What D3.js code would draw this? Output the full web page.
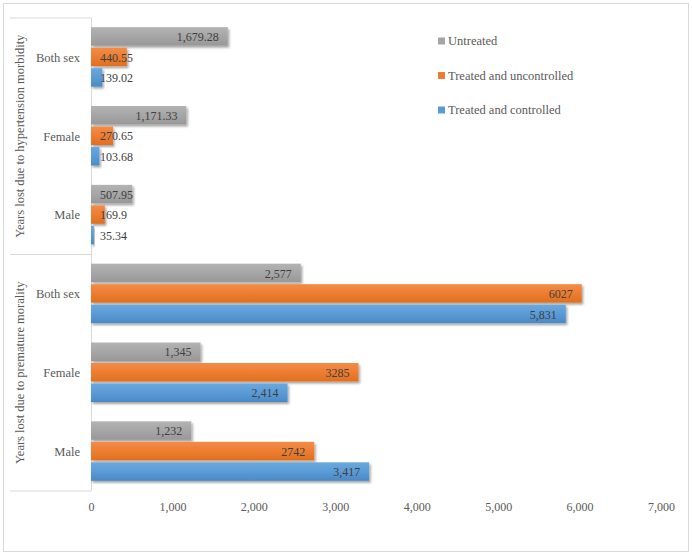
<!DOCTYPE html>
<html><head><meta charset="utf-8">
<script src="https://cdn.jsdelivr.net/npm/d3@7"></script>
<style>body{margin:0;background:#fff}svg{display:block}</style>
</head><body>
<script>
const groups = ["Years lost due to hypertension morbidity", "Years lost due to premature morality"];
const categories = ["Both sex", "Female", "Male", "Both sex", "Female", "Male"];
const categoryGroup = [0, 0, 0, 1, 1, 1];
const seriesNames = ["Untreated", "Treated and uncontrolled", "Treated and controlled"];
const untreated = [1679.28, 1171.33, 507.95, 2577, 1345, 1232];
const uncontrolled = [440.55, 270.65, 169.9, 6027, 3285, 2742];
const controlled = [139.02, 103.68, 35.34, 5831, 2414, 3417];
const untreatedLabels = ["1,679.28", "1,171.33", "507.95", "2,577", "1,345", "1,232"];
const uncontrolledLabels = ["440.55", "270.65", "169.9", "6027", "3285", "2742"];
const controlledLabels = ["139.02", "103.68", "35.34", "5,831", "2,414", "3,417"];
const tickValues = [0, 1000, 2000, 3000, 4000, 5000, 6000, 7000];
const colors = ["#a5a5a5", "#ed7d31", "#5b9bd5"];

const FONT = "'Liberation Serif', 'Times New Roman', 'DejaVu Serif', serif";
const W = 692, H = 556;
const svg = d3.select("body").append("svg").attr("width", W).attr("height", H)
  .attr("font-family", FONT);
const defs = svg.append("defs");
const f = defs.append("filter").attr("id", "sh").attr("x", "-10%").attr("y", "-30%").attr("width", "130%").attr("height", "180%");
f.append("feDropShadow").attr("dx", 1.5).attr("dy", 2).attr("stdDeviation", 1.2).attr("flood-color", "#000").attr("flood-opacity", 0.35);
const shades = [["#b3b3b3", "#a6a6a6", "#989898"], ["#f38c48", "#ed7d31", "#e0701f"], ["#6aa8df", "#5b9bd5", "#4a89c6"]];
shades.forEach((s, i) => {
  const g = defs.append("linearGradient").attr("id", "g" + i).attr("x1", 0).attr("y1", 0).attr("x2", 0).attr("y2", 1);
  g.append("stop").attr("offset", "0%").attr("stop-color", s[0]);
  g.append("stop").attr("offset", "50%").attr("stop-color", s[1]);
  g.append("stop").attr("offset", "100%").attr("stop-color", s[2]);
});

svg.append("rect").attr("x", 3.5).attr("y", 3.5).attr("width", 685).attr("height", 548)
  .attr("fill", "none").attr("stroke", "#d9d9d9");

const x = d3.scaleLinear().domain([0, 7000]).range([91, 661]);
const y = d3.scaleBand().domain(d3.range(categories.length)).range([18, 491]).paddingInner(0.22).paddingOuter(0.11);
const ys = d3.scaleBand().domain([0, 1, 2]).range([0, y.bandwidth()]);

const series = [untreated, uncontrolled, controlled];
const labels = [untreatedLabels, uncontrolledLabels, controlledLabels];

const frame = svg.append("g").attr("stroke", "#d9d9d9").attr("fill", "none");
[18, 254.5, 491].forEach(v => frame.append("line").attr("x1", 10).attr("x2", 91).attr("y1", v).attr("y2", v));
frame.append("line").attr("x1", 91.5).attr("x2", 91.5).attr("y1", 18).attr("y2", 491);

series.forEach((vals, si) => {
  svg.append("g").selectAll("rect").data(vals).join("rect")
    .attr("x", x(0))
    .attr("y", (d, i) => y(i) + ys(si) + 0.5)
    .attr("width", d => x(d) - x(0))
    .attr("height", ys.bandwidth() - 2)
    .attr("fill", `url(#g${si})`)
    .attr("filter", "url(#sh)");
});

series.forEach((vals, si) => {
  svg.append("g").selectAll("text").data(vals).join("text")
    .attr("font-family", FONT)
    .attr("y", (d, i) => y(i) + ys(si) + ys.bandwidth() / 2)
    .attr("dy", "0.35em")
    .attr("font-size", 12)
    .attr("fill", "#404040")
    .attr("text-anchor", "end")
    .text((d, i) => labels[si][i])
    .each(function (d) {
      const w = this.getComputedTextLength();
      const xe = Math.max(x(d) - 9, x(0) + 9 + w);
      d3.select(this).attr("x", xe);
    });
});

svg.append("g").selectAll("text").data(categories).join("text")
  .attr("font-family", FONT)
  .attr("x", 80).attr("y", (d, i) => y(i) + y.bandwidth() / 2)
  .attr("dy", "0.35em").attr("text-anchor", "end")
  .attr("font-size", 12.5).attr("fill", "#595959").text(d => d);

groups.forEach((gname, gi) => {
  const idx = categoryGroup.map((c, i) => c === gi ? i : -1).filter(i => i >= 0);
  const cy = (y(idx[0]) + y(idx[idx.length - 1]) + y.bandwidth()) / 2;
  svg.append("text").attr("transform", `translate(20,${cy}) rotate(-90)`)
    .attr("font-family", FONT)
    .attr("text-anchor", "middle").attr("dy", "0.35em")
    .attr("font-size", 12.5).attr("fill", "#595959").text(gname);
});

const ax = svg.append("g").attr("transform", "translate(0,491)")
  .call(d3.axisBottom(x).tickValues(tickValues).tickFormat(d3.format(",")).tickSize(0).tickPadding(11));
ax.attr("font-family", FONT);
ax.select(".domain").remove();
ax.selectAll("text").attr("font-size", 12).attr("fill", "#595959").attr("font-family", FONT);

const leg = svg.append("g");
const ly = d3.scalePoint().domain(seriesNames).range([41, 110]);
seriesNames.forEach((n, i) => {
  leg.append("rect").attr("x", 438).attr("y", ly(n) - 3.5).attr("width", 7).attr("height", 7).attr("fill", colors[i]);
  leg.append("text").attr("x", 448).attr("y", ly(n)).attr("dy", "0.35em")
    .attr("font-family", FONT)
    .attr("font-size", 12.5).attr("fill", "#595959").text(n);
});
</script>
</body></html>
